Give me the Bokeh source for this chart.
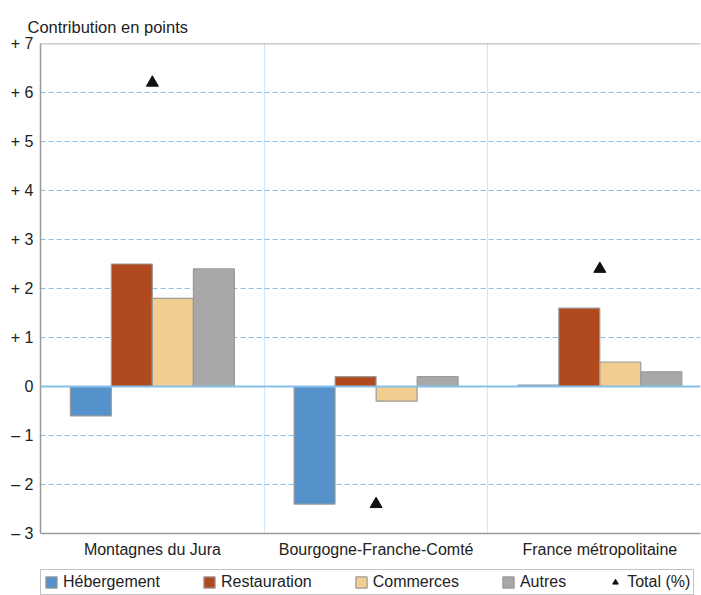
from bokeh.plotting import figure
from bokeh.layouts import column
from bokeh.models import (Range1d, FixedTicker, Span, Legend, LegendItem,
                          ColumnDataSource)
from bokeh.transform import dodge
from bokeh.embed import file_html
from bokeh.resources import INLINE

categories = ["Montagnes du Jura", "Bourgogne-Franche-Comté", "France métropolitaine"]
hebergement = [-0.6, -2.4, 0.03]
restauration = [2.5, 0.2, 1.6]
commerces = [1.8, -0.3, 0.5]
autres = [2.4, 0.2, 0.3]
total = [6.2, -2.4, 2.4]

yticks = [-3, -2, -1, 0, 1, 2, 3, 4, 5, 6, 7]
ytick_labels = ["– 3", "– 2", "– 1", "0", "+ 1", "+ 2", "+ 3", "+ 4", "+ 5", "+ 6", "+ 7"]
names = ["Hébergement", "Restauration", "Commerces", "Autres", "Total (%)"]

FONT = "Liberation Sans"
COLORS = ["#5592CB", "#B04A1E", "#F2CD90", "#A8A8A8"]
xs = [i + 0.5 for i in range(len(categories))]
src = ColumnDataSource(dict(x=xs, heb=hebergement, res=restauration,
                            com=commerces, aut=autres, tot=total))

p = figure(frame_width=660, frame_height=490, output_backend="svg", toolbar_location=None,
           x_range=Range1d(0, 2.95), y_range=Range1d(-3, 7),
           min_border_left=40, min_border_right=1, min_border_top=43,
           min_border_bottom=30)
p.outline_line_color = None
p.background_fill_color = "white"

# title
p.title.text = "Contribution en points"
p.title.align = "left"
p.title.offset = -13
p.title.standoff = 16
p.title.text_font = FONT
p.title.text_font_size = "16.5px"
p.title.text_font_style = "normal"
p.title.text_color = "#222222"

# grids
p.ygrid.ticker = FixedTicker(ticks=[t for t in yticks if t not in (-3, 0, 7)])
p.ygrid.grid_line_color = "#86BFEA"
p.ygrid.grid_line_dash = "5 3"
p.ygrid.grid_line_width = 1
p.xgrid.ticker = FixedTicker(ticks=[1, 2])
p.xgrid.grid_line_color = "#D3E7F6"
p.xgrid.grid_line_width = 1.2

p.add_layout(Span(location=0, dimension="width", line_color="#86BFEA", line_width=2))
p.add_layout(Span(location=7, dimension="width", line_color="#9a9a9a", line_width=1.5))

# axes
p.yaxis.ticker = FixedTicker(ticks=yticks)
p.yaxis.major_label_overrides = dict(zip(yticks, ytick_labels))
p.yaxis.axis_line_color = "#9a9a9a"
p.yaxis.axis_line_width = 1.5
p.yaxis.major_tick_line_color = None
p.yaxis.minor_tick_line_color = None
p.yaxis.major_tick_out = 0
p.yaxis.major_tick_in = 0
p.yaxis.major_label_standoff = 7
p.yaxis.major_label_text_font = FONT
p.yaxis.major_label_text_font_size = "16px"
p.yaxis.major_label_text_color = "#222222"

p.xaxis.ticker = FixedTicker(ticks=xs)
p.xaxis.major_label_overrides = dict(zip(xs, categories))
p.xaxis.axis_line_color = "#9a9a9a"
p.xaxis.axis_line_width = 1.5
p.xaxis.major_tick_line_color = None
p.xaxis.minor_tick_line_color = None
p.xaxis.major_tick_out = 0
p.xaxis.major_tick_in = 0
p.xaxis.major_label_standoff = 7
p.xaxis.major_label_text_font = FONT
p.xaxis.major_label_text_font_size = "16px"
p.xaxis.major_label_text_color = "#222222"

w = 0.183
specs = [("heb", -0.275), ("res", -0.0917), ("com", 0.0917), ("aut", 0.275)]
for (col, off), color in zip(specs, COLORS):
    p.vbar(x=dodge("x", off, range=p.x_range), top=col, bottom=0, width=w,
           source=src, fill_color=color, line_color="#9a9a9a", line_width=1.2)

p.scatter(x="x", y="tot", source=src, marker="triangle", size=12,
          fill_color="#111111", line_color="#111111")

# legend in its own strip below the chart (proxy glyphs lie outside its ranges)
pl = figure(frame_width=660, height=32, output_backend="svg", toolbar_location=None,
            x_axis_type=None, y_axis_type=None, x_range=Range1d(0, 1), y_range=Range1d(0, 1),
            min_border_left=40, min_border_right=1, min_border_top=0, min_border_bottom=0)
pl.outline_line_color = None
proxy = ColumnDataSource(dict(x=[-10], top=[-10], y=[-10]))
leg_renderers = [pl.vbar(x="x", top="top", width=0.1, source=proxy, fill_color=c,
                         line_color="#9a9a9a", line_width=1.2) for c in COLORS]
leg_renderers.append(pl.scatter(x="x", y="y", source=proxy, marker="triangle", size=12,
                                fill_color="#111111", line_color="#111111"))
items = [LegendItem(label=n, renderers=[r]) for n, r in zip(names, leg_renderers)]
legend = Legend(items=items, orientation="horizontal", location=(0, 0),
                spacing=42, padding=3, margin=0, label_standoff=5,
                glyph_width=14, glyph_height=14, label_height=16,
                label_text_font=FONT, label_text_font_size="16px",
                label_text_color="#222222",
                border_line_color="#888888", border_line_width=1.5,
                background_fill_alpha=0)
pl.add_layout(legend, "center")

layout = column(p, pl, spacing=0)
open("out.html", "w").write(file_html(layout, INLINE))
